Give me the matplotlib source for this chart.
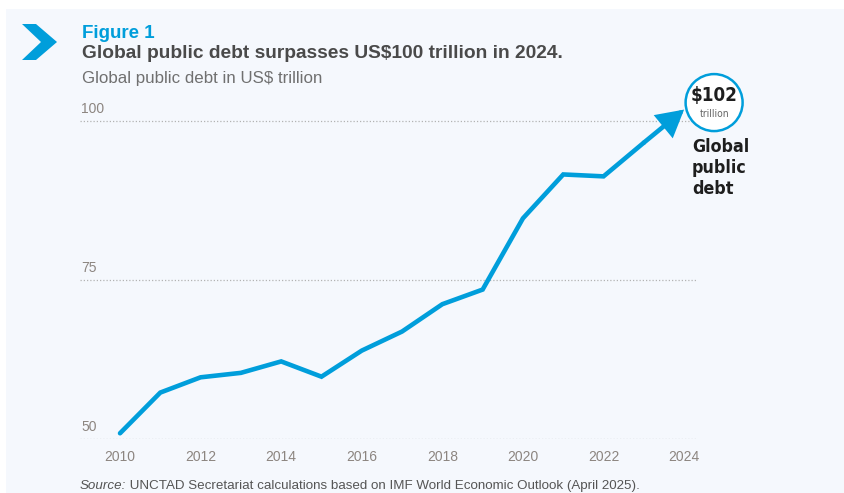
import matplotlib
matplotlib.use("Agg")
import matplotlib.pyplot as plt
from matplotlib.patches import Polygon, Circle, Rectangle
from matplotlib.font_manager import fontManager, FontProperties

# ---- data ----
years = [2010, 2011, 2012, 2013, 2014, 2015, 2016, 2017, 2018, 2019, 2020, 2021, 2022, 2023, 2024]
debt = [50.9, 57.3, 59.7, 60.4, 62.2, 59.8, 63.9, 66.9, 71.2, 73.5, 84.7, 91.6, 91.3, 96.6, 101.8]
x_ticks = [2010, 2012, 2014, 2016, 2018, 2020, 2022, 2024]
y_ticks = [50, 75, 100]
y_tick_labels = ["50", "75", "100"]

BLUE = "#009edb"
BG = "#f5f8fd"
W, H = 845, 493

plt.rcParams['font.family'] = ['Liberation Sans', 'DejaVu Sans']


def _wnum(w):
    table = {"thin": 100, "extralight": 200, "light": 300, "normal": 400, "regular": 400,
             "book": 400, "medium": 500, "semibold": 600, "demibold": 600, "bold": 700,
             "extrabold": 800, "heavy": 800, "black": 900}
    if isinstance(w, (int, float)):
        return w
    return table.get(str(w).lower(), 400)


def _snum(s):
    table = {"ultra-condensed": 100, "extra-condensed": 200, "condensed": 300,
             "semi-condensed": 400, "normal": 500}
    if isinstance(s, (int, float)):
        return s
    return table.get(str(s).lower(), 500)


def condensed_font(weight, size):
    best, score = None, None
    for f in fontManager.ttflist:
        nm = f.name
        st = _snum(f.stretch)
        cond = ("Condensed" in nm or "Narrow" in nm or st < 500)
        if not cond or "CJK" in nm or "Mono" in nm:
            continue
        if "italic" in str(f.style).lower() or "oblique" in str(f.style).lower():
            continue
        sc = abs(_wnum(f.weight) - weight) + (40 if st < 300 else 0)
        if score is None or sc < score:
            best, score = f, sc
    if best is None:
        return FontProperties(family=["Liberation Sans", "DejaVu Sans"],
                              weight="bold" if weight >= 600 else "normal", size=size)
    return FontProperties(fname=best.fname, size=size)


fig = plt.figure(figsize=(W / 100, H / 100), dpi=100)
fig.patch.set_facecolor("white")
fig.add_artist(Rectangle((6 / W, 0), 1, 1 - 9 / H, transform=fig.transFigure,
                         facecolor=BG, edgecolor="none", zorder=0))


def fx(x):
    return x / W


def fy(y):
    return 1 - y / H


# main axes
left, right = 80, 697
bottom, top = 439, 95.6
ax = fig.add_axes([fx(left), fy(bottom), (right - left) / W, (bottom - top) / H])
ax.set_facecolor("none")
ax.set_xlim(2009.007, 2024.32)
ax.set_ylim(50, 104)
for s in ax.spines.values():
    s.set_visible(False)

for v, lab in zip(y_ticks, y_tick_labels):
    ax.axhline(v, color="#b3b3b3", lw=0.9, linestyle=(0, (1, 1.6)), zorder=1)
    ax.annotate(lab, xy=(0, v), xycoords=ax.get_yaxis_transform(),
                xytext=(1.5, 5), textcoords="offset pixels",
                ha="left", va="bottom", fontsize=10, color="#8c8580")
ax.set_yticks([])
ax.set_xticks(x_ticks)
ax.set_xticklabels([str(t) for t in x_ticks], fontsize=10, color="#8c8580")
ax.tick_params(axis="x", length=0, pad=8)

# line (to 2023) + arrow segment to 2024
ax.plot(years[:-1], debt[:-1], color=BLUE, lw=3.3, solid_joinstyle="miter",
        solid_capstyle="round", zorder=3)
ax.annotate("", xy=(years[-1], debt[-1]), xytext=(years[-2], debt[-2]),
            arrowprops=dict(arrowstyle="-|>,head_length=0.72,head_width=0.4",
                            mutation_scale=20, color=BLUE, lw=3.3,
                            shrinkA=0, shrinkB=0, joinstyle="miter"),
            annotation_clip=False, zorder=3)

# overlay axes in pixel coords (display coordinates, origin bottom-left)
ov = fig.add_axes([0, 0, 1, 1], zorder=5)
ov.set_xlim(0, W)
ov.set_ylim(0, H)
ov.axis("off")
ov.set_facecolor("none")

# chevron
chev = [(22, 24), (36, 24), (57, 42), (36, 60), (22, 60), (41, 42)]
ov.add_patch(Polygon([(x, H - y) for x, y in chev], closed=True, facecolor=BLUE, edgecolor="none"))

# header texts
ov.text(82, H - 37.7, "Figure 1", fontsize=13.5, fontweight="bold", color=BLUE, va="baseline", ha="left")
ov.text(82, H - 57.7, "Global public debt surpasses US$100 trillion in 2024.", fontsize=13.8,
        fontweight="bold", color="#4a4a4a", va="baseline", ha="left")
ov.text(82, H - 83.3, "Global public debt in US$ trillion", fontsize=12.2,
        color="#707070", va="baseline", ha="left")

# source
t1 = ov.text(80, H - 489, "Source:", fontsize=9.65, style="italic", color="#555555",
             va="baseline", ha="left")
ov.annotate(" UNCTAD Secretariat calculations based on IMF World Economic Outlook (April 2025).",
            xy=(1, 0), xycoords=t1, xytext=(0, 0), textcoords="offset points",
            fontsize=9.65, color="#555555", va="bottom", ha="left")

# circle annotation anchored to last data point
tipx, tipy = ax.transData.transform((years[-1], debt[-1]))
cx, cy = tipx + 30, tipy + 7
ov.add_patch(Circle((cx, cy), 28.5, facecolor="white", edgecolor=BLUE, lw=1.8, zorder=6))
ov.text(cx, tipy + 14, "$%d" % round(debt[-1]), fontproperties=condensed_font(700, 13.5),
        color="#1e1e1e", ha="center", va="center", zorder=7)
ov.text(cx, tipy - 4.5, "trillion", fontproperties=condensed_font(400, 7.5),
        color="#666666", ha="center", va="center", zorder=7)
ov.text(tipx + 8, tipy - 28, "Global\npublic\ndebt", fontproperties=condensed_font(700, 12.8),
        color="#1e1e1e", ha="left", va="top", linespacing=1.22, zorder=7)

fig.savefig("out.png", dpi=100, facecolor=fig.get_facecolor())
